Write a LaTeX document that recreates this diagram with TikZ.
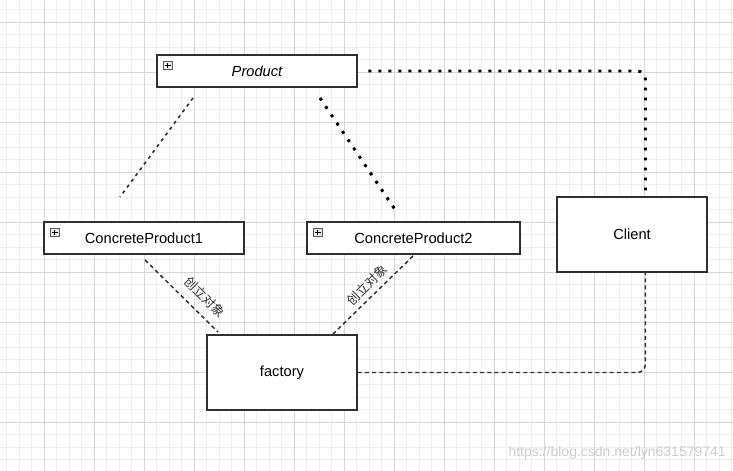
\documentclass[tikz,border=0pt]{standalone}
\usepackage{fontspec}
\setmainfont{Liberation Sans}
\newfontfamily\cjk{Noto Sans CJK SC}
\definecolor{boxline}{HTML}{2F2F2F}
\definecolor{minorgrid}{HTML}{EEEEEE}
\definecolor{majorgrid}{HTML}{D6D6D6}
\begin{document}
\begin{tikzpicture}[x=0.75pt,y=-0.75pt,
  umlbox/.style={draw=boxline,line width=1pt,fill=white,inner sep=0pt,
    minimum height=24pt,font=\fontsize{11}{13}\selectfont},
  plainbox/.style={draw=boxline,line width=1pt,fill=white,inner sep=0pt,
    minimum width=112.5pt,minimum height=56.25pt,font=\fontsize{11}{13}\selectfont},
  iconbox/.style={draw=gray!70!black,line width=0.5pt,fill=gray!18,inner sep=0pt,
    minimum size=6.5pt,
    path picture={\draw[black,line width=0.6pt]
      ([xshift=-2pt]path picture bounding box.center) -- ([xshift=2pt]path picture bounding box.center)
      ([yshift=-2pt]path picture bounding box.center) -- ([yshift=2pt]path picture bounding box.center);}},
  dashedline/.style={line width=1.1pt,dash pattern=on 3pt off 2.4pt,boxline},
  fineline/.style={line width=1.2pt,dash pattern=on 2.4pt off 3pt,boxline},
  dotline/.style={line width=2.2pt,dash pattern=on 2.2pt off 5.3pt,black},
  cjklabel/.style={font=\cjk\fontsize{9.5}{11}\selectfont,text=boxline,inner sep=0pt}]
\useasboundingbox (0,0) rectangle (733,471);
\fill[white] (0,0) rectangle (733,471);
\begin{scope}
\clip (0,0) rectangle (733,471);
\foreach \x in {6.5,19,...,733} \draw[minorgrid,line width=0.6pt] (\x,0) -- (\x,471);
\foreach \y in {9.5,22,...,471} \draw[minorgrid,line width=0.6pt] (0,\y) -- (733,\y);
\foreach \x in {44,94,...,733} \draw[majorgrid,line width=0.7pt] (\x,0) -- (\x,471);
\foreach \y in {22,72,...,471} \draw[majorgrid,line width=0.7pt] (0,\y) -- (733,\y);
\end{scope}

% nodes
\node[umlbox,minimum width=150pt] (product) at (257,71) {\itshape Product};
\node[umlbox,minimum width=150pt] (cp1) at (144,238) {ConcreteProduct1};
\node[umlbox,minimum width=159.75pt] (cp2) at (413.5,238) {ConcreteProduct2};
\node[plainbox] (client) at (632,234.5) {Client};
\node[plainbox] (factory) at (282,372.5) {factory};

\node[iconbox] (icon0) at ([shift={(11.5,11)}]product.north west) {};
\node[iconbox] (icon1) at ([shift={(11.5,11)}]cp1.north west) {};
\node[iconbox] (icon2) at ([shift={(11.5,11)}]cp2.north west) {};

% free ends
\coordinate (a1) at (193,98);
\coordinate (a2) at (120,197);
\coordinate (b1) at (320,98);
\coordinate (b2) at (396,211);
\coordinate (c1) at (145,260);
\coordinate (c2) at (218,332);
\coordinate (d1) at (413,256);
\coordinate (d2) at (333,334);

% connectors
\draw[fineline] (a1) -- (a2);
\draw[dotline] (b1) -- (b2);
\draw[dotline,rounded corners=6] ([xshift=8]product.east) -| ([xshift=10]client.north);
\draw[dashedline,rounded corners=6] (factory.east) -| ([xshift=10]client.south);
\draw[dashedline] (c1) -- (c2);
\draw[dashedline] (d1) -- (d2);

\node[cjklabel,rotate=-45] (l1) at (205,297) {创立对象};
\node[cjklabel,rotate=45] (l2) at (367,285) {创立对象};

\node[anchor=east,text=gray!40,font=\fontsize{10.5}{12}\selectfont,inner sep=0pt] (wm) at (726,453) {https://blog.csdn.net/lyn631579741};
\end{tikzpicture}
\end{document}
